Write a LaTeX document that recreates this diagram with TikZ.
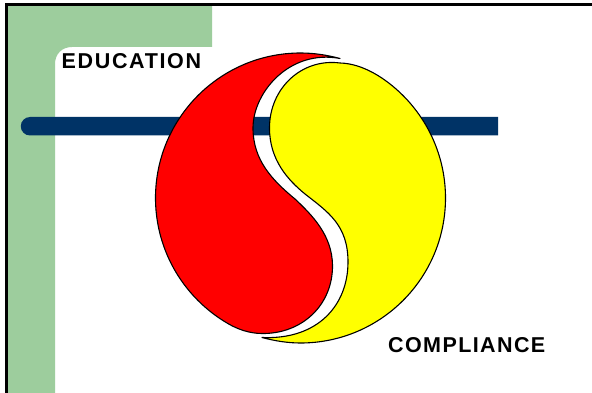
\documentclass[tikz,border=0pt]{standalone}
\usepackage{fontspec}
\setmainfont{Liberation Sans}
\newfontfamily\eduface[LetterSpace=7.7]{Liberation Sans Bold}
\newfontfamily\compface[LetterSpace=6.5]{Liberation Sans Bold}
\tikzset{
  outline/.style={draw=black,line width=1.1pt,line join=round},
  lbl/.style={anchor=base west,inner sep=0pt,text=black}
}
\definecolor{sage}{HTML}{9DCD9D}
\definecolor{navy}{HTML}{003366}
\definecolor{pureyellow}{HTML}{FFFF00}
\definecolor{purered}{HTML}{FF0000}
\begin{document}
\begin{tikzpicture}[x=1pt,y=-1pt]
\useasboundingbox (0,0) rectangle (592,393);
\fill[white] (0,0) rectangle (592,393);
% green corner
\fill[sage] (7,4) -- (212,4) -- (212,47) -- (72,47) .. controls (62,47) and (55,54) .. (55,64) -- (55,393) -- (7,393) -- cycle;
% frame
\draw[black,line width=2.6pt] (6.5,393) -- (6.5,4.3) -- (592,4.3);
% bar
\fill[navy] (498,117) -- (498,135.5) -- (30,135.5) arc[start angle=90,end angle=270,radius=9.25] -- cycle;
% red
\path[outline,fill=purered] (340,58.5) .. controls (327,55) and (314,53) .. (300.5,53)
  .. controls (220.5,53) and (155.5,118) .. (155.5,198)
  .. controls (155.5,236.5) and (170.8,273.3) .. (198,300.5)
  .. controls (207,309.5) and (217,317.2) .. (228,323.6)
  .. controls (238,329.5) and (250,333.5) .. (262,333.5)
  .. controls (302,334) and (333,305) .. (332.5,265)
  .. controls (332,235) and (312,215) .. (295,199)
  .. controls (272,180) and (253,160) .. (253,128)
  .. controls (253,92) and (290,49) .. (340,58.5) -- cycle;
% yellow
\path[outline,fill=pureyellow] (262,337.5) .. controls (275,341) and (288,343) .. (300.5,343)
  .. controls (380.6,343) and (445.5,278) .. (445.5,198)
  .. controls (445.5,159.5) and (430.2,122.7) .. (403,95.5)
  .. controls (385,77.5) and (362,63.5) .. (340,63)
  .. controls (302,58) and (269.5,88) .. (269.5,128)
  .. controls (269.5,160) and (288,180) .. (305,194)
  .. controls (328,212) and (348,225) .. (348,262)
  .. controls (348,305) and (318,340) .. (262,337.5) -- cycle;
\node[lbl,font=\eduface\fontsize{21.5}{24}\selectfont] (edu) at (61.5,68.5) {EDUCATION};
\node[lbl,font=\compface\fontsize{21.5}{24}\selectfont] (comp) at (388,352.5) {COMPLIANCE};
\end{tikzpicture}
\end{document}
